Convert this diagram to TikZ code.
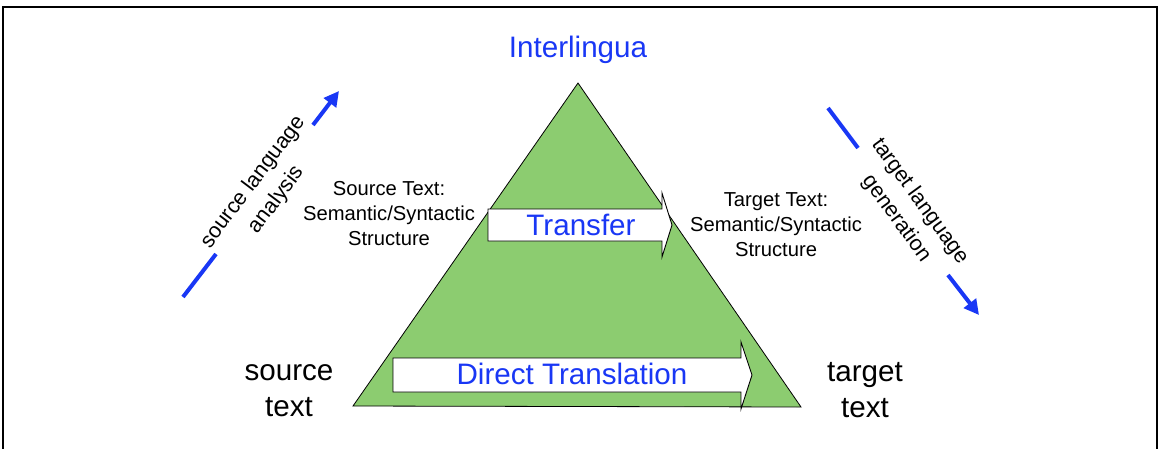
\documentclass[tikz,border=0pt]{standalone}
\usepackage{fontspec}
\setmainfont{Liberation Sans}
\usetikzlibrary{arrows.meta}
\definecolor{tblue}{RGB}{25,55,245}
\definecolor{tgreen}{RGB}{140,204,112}
\tikzset{
  big/.style={font=\fontsize{29.6}{36}\selectfont, inner sep=0pt, align=center},
  small/.style={font=\fontsize{20.2}{25}\selectfont, inner sep=0pt, align=center},
  rot/.style={font=\fontsize{21.5}{29}\selectfont, inner sep=0pt, align=center},
  flow/.style={draw=tblue, line width=4pt},
  flowtip/.style={flow, -{Triangle[length=15pt,width=15pt]}},
  fatarrow/.style={draw=black, line width=0.9pt, fill=white, line join=miter},
}
\begin{document}
\begin{tikzpicture}[x=1pt,y=-1pt]
\useasboundingbox (0,0) rectangle (1158,448);
% frame
\draw[line width=1.8pt] (3,449) -- (3,7) -- (1157,7) -- (1157,449);
% triangle
\coordinate (apex) at (578,83);
\coordinate (bl) at (353,406);
\coordinate (br) at (801,407);
\draw[fill=tgreen, line width=0.8pt, line join=miter] (apex) -- (br) -- (bl) -- cycle;
% transfer arrow
\draw[fatarrow] (488,209) -- (662,209) -- (662,193) -- (672,225) -- (662,257) -- (662,241) -- (488,241) -- cycle;
\node[big, text=tblue] (transfer) at (581,225) {Transfer};
% direct translation arrow
\draw[fatarrow] (393,358) -- (741,358) -- (741,342) -- (752,375) -- (741,409) -- (741,392) -- (393,392) -- cycle;
\node[big, text=tblue] (direct) at (572,374) {Direct Translation};
% labels
\node[big, text=tblue] (inter) at (578,50) {Interlingua};
\node[big] (src) at (289,391) {source\\text};
\node[big] (tgt) at (865,390) {target\\text};
\node[small] (srcs) at (389,214) {Source Text:\\Semantic/Syntactic\\Structure};
\node[small] (tgts) at (776,225) {Target Text:\\Semantic/Syntactic\\Structure};
% rotated labels
\node[rot, rotate=53] (sla) at (265,191) {source language\\analysis};
\node[rot, rotate=-54] (tlg) at (908,210) {target language\\generation};
% blue flow arrows
\coordinate (a1) at (183,297);
\coordinate (a2) at (216,254);
\coordinate (a3) at (313,125);
\coordinate (a4) at (339,91);
\draw[flow] (a1) -- (a2);
\draw[flowtip] (a3) -- (a4);
\coordinate (b1) at (828,108);
\coordinate (b2) at (858,148);
\coordinate (b3) at (948,275);
\coordinate (b4) at (979,315);
\draw[flow] (b1) -- (b2);
\draw[flowtip] (b3) -- (b4);
\end{tikzpicture}
\end{document}
